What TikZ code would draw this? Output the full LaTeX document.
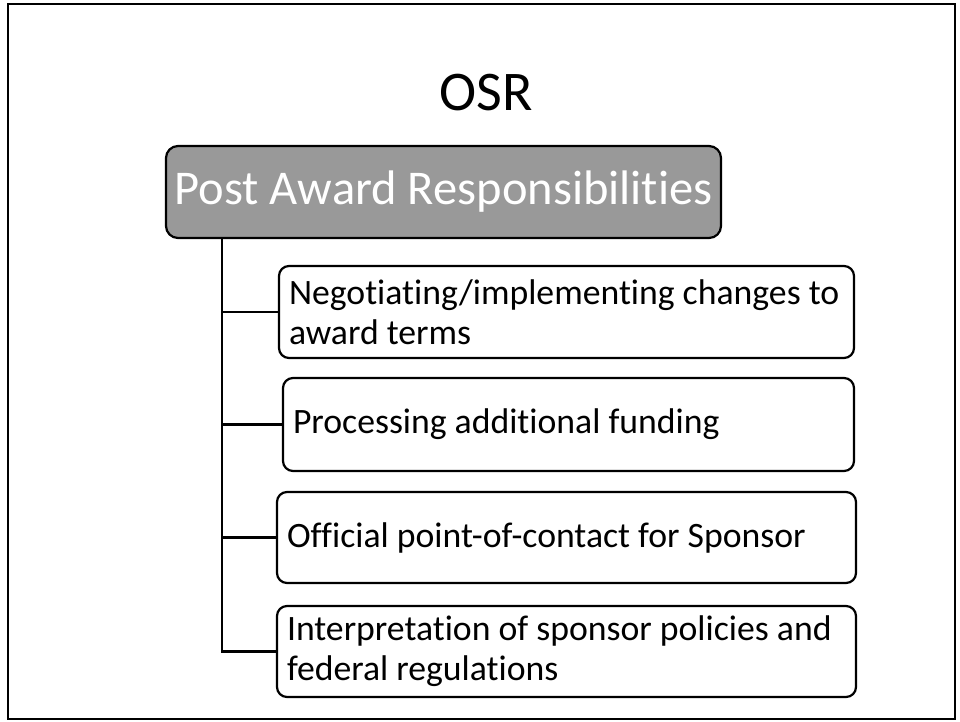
\documentclass[tikz,border=0pt]{standalone}
\usepackage{fontspec}
\setmainfont[Ligatures={NoCommon}]{Carlito}
\definecolor{parentgray}{HTML}{999999}
\tikzset{
  childbox/.style={draw=black, line width=2.2pt, rounded corners=10pt, fill=white,
    inner xsep=10pt, inner ysep=0pt, align=flush left, anchor=center,
    font=\fontsize{35.7}{40}\selectfont},
  parentbox/.style={draw=black, line width=2.2pt, rounded corners=12pt, fill=parentgray,
    text=white, inner sep=0pt, align=center, minimum width=555pt, minimum height=92pt,
    font=\fontsize{48.5}{54}\selectfont},
  conn/.style={draw=black, line width=2.2pt},
}
\begin{document}
\begin{tikzpicture}[x=1pt,y=-1pt]
\useasboundingbox (0,0) rectangle (960,721);
\draw[line width=2.5pt] (8,4) rectangle (955,719);
\node[font=\fontsize{56}{60}\selectfont, inner sep=0pt] (title) at (486,93) {OSR};
\node[parentbox] (p) at (443.5,192) {Post Award Responsibilities};
\coordinate (top) at (222,238);
\node[childbox, minimum height=92pt, text width=555pt] (c1) at (566.5,312)
  {Negotiating/implementing changes to\\award terms};
\node[childbox, minimum height=93pt, text width=551pt] (c2) at (568.5,424.5)
  {Processing additional funding};
\node[childbox, minimum height=91pt, text width=559pt] (c3) at (566.5,537.5)
  {Official point-of-contact for Sponsor};
\node[childbox, minimum height=91pt, text width=559pt] (c4) at (566.5,651.5)
  {Interpretation of sponsor policies and\\federal regulations};
\draw[conn] (top) |- (c4.west);
\draw[conn] (c1.west -| top) -- (c1.west);
\draw[conn] (c2.west -| top) -- (c2.west);
\draw[conn] (c3.west -| top) -- (c3.west);
\end{tikzpicture}
\end{document}
